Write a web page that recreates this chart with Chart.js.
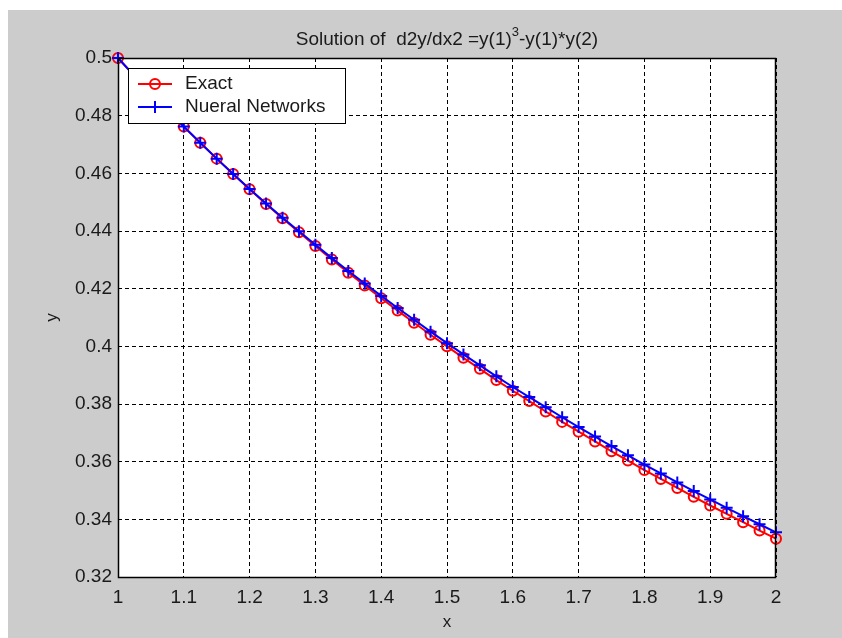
<!DOCTYPE html>
<html>
<head>
<meta charset="utf-8">
<script src="https://cdn.jsdelivr.net/npm/chart.js@4.4.1/dist/chart.umd.min.js"></script>
<style>
html,body{margin:0;padding:0;background:#fff;}
#wrap{position:absolute;left:0;top:0;width:842px;height:638px;}
</style>
</head>
<body>
<div id="wrap"><canvas id="c" width="842" height="638"></canvas></div>
<script>
const xValues = [1.000,1.025,1.050,1.075,1.100,1.125,1.150,1.175,1.200,1.225,1.250,1.275,1.300,1.325,1.350,1.375,1.400,1.425,1.450,1.475,1.500,1.525,1.550,1.575,1.600,1.625,1.650,1.675,1.700,1.725,1.750,1.775,1.800,1.825,1.850,1.875,1.900,1.925,1.950,1.975,2.000];
const exactValues = [0.5000,0.4938,0.4878,0.4819,0.4762,0.4706,0.4651,0.4598,0.4545,0.4494,0.4444,0.4396,0.4348,0.4301,0.4255,0.4211,0.4167,0.4124,0.4082,0.4040,0.4000,0.3960,0.3922,0.3883,0.3846,0.3810,0.3774,0.3738,0.3704,0.3670,0.3636,0.3604,0.3571,0.3540,0.3509,0.3478,0.3448,0.3419,0.3390,0.3361,0.3333];
const nnValues = [0.5000,0.4938,0.4878,0.4819,0.4762,0.4706,0.4651,0.4598,0.4546,0.4495,0.4446,0.4399,0.4352,0.4306,0.4261,0.4218,0.4175,0.4133,0.4092,0.4051,0.4011,0.3972,0.3934,0.3896,0.3859,0.3824,0.3789,0.3754,0.3720,0.3687,0.3654,0.3622,0.3590,0.3559,0.3528,0.3498,0.3469,0.3440,0.3411,0.3383,0.3355];
const xTickLabels = ['1','1.1','1.2','1.3','1.4','1.5','1.6','1.7','1.8','1.9','2'];
const yTickLabels = ['0.32','0.34','0.36','0.38','0.4','0.42','0.44','0.46','0.48','0.5'];
const seriesNames = ['Exact','Nueral Networks'];
const titleParts = ['Solution of  d2y/dx2 =y(1)','3','-y(1)*y(2)'];
const xLabel = 'x', yLabel = 'y';

const FONT = '"Liberation Sans", Arial, sans-serif';
const TXT = '#1a1a1a';

const exactData = xValues.map((x,i)=>({x:x,y:exactValues[i]}));
const nnData = xValues.map((x,i)=>({x:x,y:nnValues[i]}));

const bgPlugin = {
  id:'bg',
  beforeDraw(chart){
    const ctx = chart.ctx, a = chart.chartArea;
    ctx.save();
    ctx.fillStyle = '#ffffff';
    ctx.fillRect(0,0,chart.width,chart.height);
    ctx.fillStyle = '#cccccc';
    ctx.fillRect(8,10,chart.width-8,chart.height-10);
    ctx.fillStyle = '#ffffff';
    ctx.fillRect(a.left,a.top,a.right-a.left,a.bottom-a.top);
    ctx.restore();
  },
  afterDraw(chart){
    const ctx = chart.ctx, a = chart.chartArea;
    ctx.save();
    ctx.strokeStyle = '#000';
    ctx.lineWidth = 1.5;
    ctx.strokeRect(a.left+0.5,a.top+0.5,a.right-a.left-1,a.bottom-a.top);
    // title
    ctx.fillStyle = TXT;
    ctx.textBaseline = 'alphabetic';
    const big = '19px '+FONT, small = '13px '+FONT;
    ctx.font = big; const w0 = ctx.measureText(titleParts[0]).width;
    ctx.font = small; const w1 = ctx.measureText(titleParts[1]).width;
    ctx.font = big; const w2 = ctx.measureText(titleParts[2]).width;
    const cx = (a.left+a.right)/2;
    let tx = cx - (w0+w1+w2)/2;
    const ty = 45;
    ctx.font = big; ctx.textAlign='left';
    ctx.fillText(titleParts[0],tx,ty); tx+=w0;
    ctx.font = small; ctx.fillText(titleParts[1],tx,ty-9); tx+=w1;
    ctx.font = big; ctx.fillText(titleParts[2],tx,ty);
    // axis labels
    ctx.font = '17px '+FONT;
    ctx.textAlign='center'; ctx.textBaseline='middle';
    ctx.fillText(xLabel,cx,622);
    ctx.save();
    ctx.translate(52,(a.top+a.bottom)/2);
    ctx.rotate(-Math.PI/2);
    ctx.fillText(yLabel,0,0);
    ctx.restore();
    // legend
    const lx=128, ly=68, lw=217, lh=55;
    ctx.fillStyle='#fff';
    ctx.fillRect(lx,ly,lw,lh);
    ctx.strokeStyle='#000'; ctx.lineWidth=1;
    ctx.strokeRect(lx+0.5,ly+0.5,lw,lh);
    const rows=[{y:84,c:'#ff0000',m:'circle'},{y:107,c:'#0000ff',m:'plus'}];
    rows.forEach((r,i)=>{
      ctx.strokeStyle=r.c; ctx.lineWidth=2;
      ctx.beginPath(); ctx.moveTo(138,r.y); ctx.lineTo(172,r.y); ctx.stroke();
      if(r.m==='circle'){ctx.beginPath();ctx.arc(155,r.y,5,0,Math.PI*2);ctx.stroke();}
      else{ctx.beginPath();ctx.moveTo(149,r.y);ctx.lineTo(161,r.y);ctx.moveTo(155,r.y-6);ctx.lineTo(155,r.y+6);ctx.stroke();}
      ctx.fillStyle=TXT; ctx.font='19px '+FONT; ctx.textAlign='left'; ctx.textBaseline='middle';
      ctx.fillText(seriesNames[i],185,r.y);
    });
    ctx.restore();
  }
};

new Chart(document.getElementById('c'),{
  type:'line',
  data:{datasets:[
    {label:seriesNames[0],data:exactData,order:2,borderColor:'#ff0000',backgroundColor:'rgba(0,0,0,0)',borderWidth:2,pointStyle:'circle',pointRadius:5,pointBorderWidth:2,pointBorderColor:'#ff0000',pointBackgroundColor:'rgba(0,0,0,0)',tension:0,clip:false},
    {label:seriesNames[1],data:nnData,order:1,borderColor:'#0000ff',backgroundColor:'#0000ff',borderWidth:2,pointStyle:'cross',pointRadius:6,pointBorderWidth:2,pointBorderColor:'#0000ff',tension:0,clip:false}
  ]},
  options:{
    responsive:false,animation:false,
    layout:{padding:{left:0,top:58,right:66,bottom:0}},
    plugins:{legend:{display:false},title:{display:false},tooltip:{enabled:false}},
    scales:{
      x:{type:'linear',min:1,max:2,
        afterBuildTicks(s){s.ticks=xTickLabels.map(v=>({value:parseFloat(v)}));},
        afterFit(s){s.height=61;},
        ticks:{callback:(v,i)=>xTickLabels[i],font:{family:FONT,size:19},color:TXT,padding:9,maxRotation:0,autoSkip:false},
        grid:{color:'#000',lineWidth:1,drawTicks:false,tickLength:0},
        border:{display:false,dash:[4,3]}
      },
      y:{type:'linear',min:0.32,max:0.5,
        afterBuildTicks(s){s.ticks=yTickLabels.map(v=>({value:parseFloat(v)}));},
        afterFit(s){s.width=118;},
        ticks:{callback:(v,i)=>yTickLabels[i],font:{family:FONT,size:19},color:TXT,padding:6,autoSkip:false},
        grid:{color:'#000',lineWidth:1,drawTicks:false,tickLength:0},
        border:{display:false,dash:[4,3]}
      }
    }
  },
  plugins:[bgPlugin]
});
</script>
</body>
</html>
